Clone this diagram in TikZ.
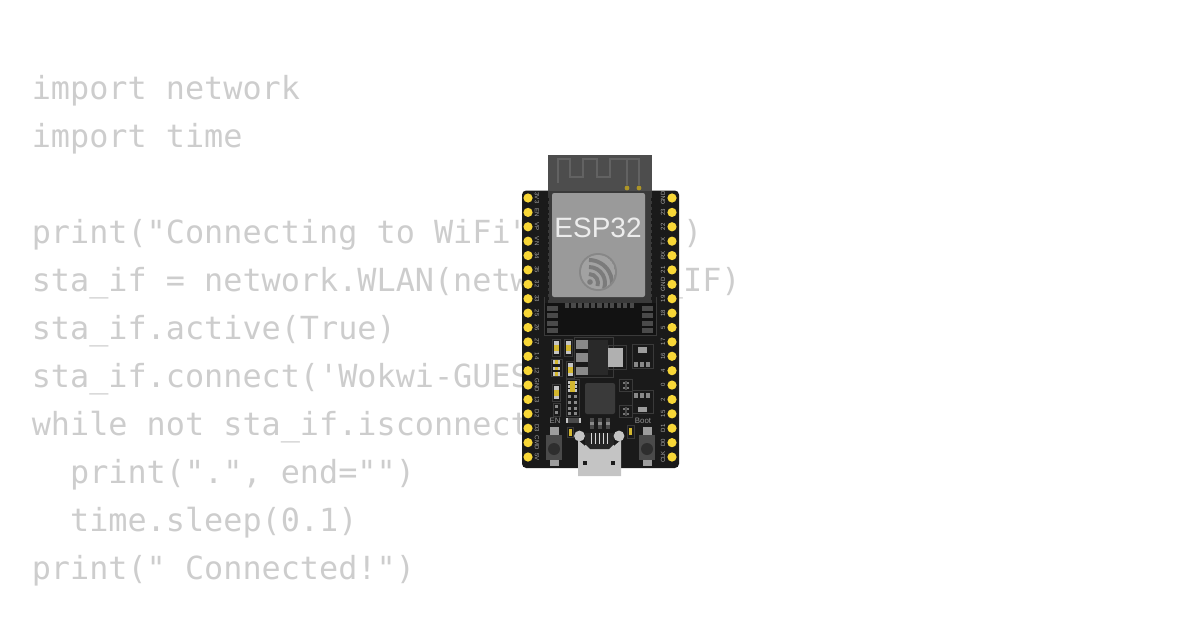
\documentclass[tikz,border=0pt]{standalone}
\usepackage{fontspec}
\setmainfont{Liberation Sans}
\newfontfamily\codefont{DejaVu Sans Mono}
\definecolor{codegrey}{HTML}{CDCDCD}
\definecolor{boardblack}{HTML}{1A1A1A}
\definecolor{pinyellow}{HTML}{F8D737}
\definecolor{shieldgrey}{HTML}{9A9A9A}
\definecolor{antennagrey}{HTML}{4D4D4D}
\definecolor{padgrey}{HTML}{4A4A4A}
\definecolor{linegrey}{HTML}{3A3A3A}
\definecolor{pale}{HTML}{C4C4C4}
\tikzset{
    codeline/.style={anchor=base west,inner sep=0pt,text=codegrey,font=\codefont\fontsize{22.63}{24}\selectfont},
    pinlabel/.style={inner sep=0pt,text=pale!85!black,font=\fontsize{4.3}{5}\selectfont},
    smalllabel/.style={inner sep=0pt,text=pale!75!black,font=\fontsize{5.6}{6}\selectfont},
    outlined/.style={draw=linegrey,line width=0.5pt},
    gold/.style={fill=pinyellow},
    pad/.style={fill=padgrey},
    palepad/.style={fill=pale}
}
\newcommand{\capbox}[2]{% x,y of the top left corner
    \draw[outlined] (#1,#2) rectangle ++(8,17);
    \fill[pale] (#1+1.5,#2+2) rectangle ++(5,13);
    \fill[pinyellow!85!black] (#1+1.5,#2+6) rectangle ++(5,6);
}
\newcommand{\twobytwo}[2]{%
    \draw[outlined] (#1,#2) rectangle ++(13,12.5);
    \fill[padgrey] (#1+5.5,#2+2) rectangle ++(2,8.5);
    \foreach \a in {3.5,7.5}
        \foreach \b in {2.5,8}
            \fill[pale!60!black] (#1+\a,#2+\b) rectangle ++(2,2);
}
\newcommand{\pushbutton}[1]{%
    \fill[pale!80!black] (#1-4.5,427) rectangle (#1+4.5,435);
    \fill[pale!80!black] (#1-4.5,460) rectangle (#1+4.5,466);
    \fill[padgrey] (#1-8,435) rectangle (#1+8,460);
    \fill[linegrey!80!black] (#1,449) circle (6);
}
\begin{document}
\begin{tikzpicture}[x=0.025cm,y=-0.025cm]
    \useasboundingbox (0,0) rectangle (1200,630);
    % code
    \node[codeline] (line1) at (31.5,99.5) {import network};
    \node[codeline] (line2) at (31.5,147.5) {import time};
    \node[codeline] (line4) at (31.5,243.5) {print("Connecting to WiFi", end="")};
    \node[codeline] (line5) at (31.5,291.5) {sta\_if = network.WLAN(network.STA\_IF)};
    \node[codeline] (line6) at (31.5,339.5) {sta\_if.active(True)};
    \node[codeline] (line7) at (31.5,387.5) {sta\_if.connect('Wokwi-GUEST', '')};
    \node[codeline] (line8) at (31.5,435.5) {while not sta\_if.isconnected():};
    \node[codeline] (line9) at (31.5,483.5) {\ \ print(".", end="")};
    \node[codeline] (line10) at (31.5,531.5) {\ \ time.sleep(0.1)};
    \node[codeline] (line11) at (31.5,579.5) {print(" Connected!")};

    % board
    \fill[boardblack,rounded corners=3pt] (522,190.5) rectangle (679,468);
    \foreach \name [count=\i from 0] in {3V3,EN,VP,VN,34,35,32,33,25,26,27,14,12,GND,13,D2,D3,CMD,5V} {
        \fill[gold] (528,198+14.39*\i) circle (4.6);
        \node[pinlabel,rotate=-90] (left\i) at (537,198+14.39*\i) {\name};
    }
    \foreach \name [count=\i from 0] in {GND,23,22,TX,RX,21,GND,19,18,5,17,16,4,0,2,15,D1,D0,CLK} {
        \fill[gold] (672,198+14.39*\i) circle (4.6);
        \node[pinlabel,rotate=90] (right\i) at (663,198+14.39*\i) {\name};
    }

    % module
    \fill[antennagrey] (548,154.5) rectangle (652,193);
    \draw[antennagrey!88!white,line width=1.7pt,line join=miter] (558,183) -- (558,159) -- (570,159) -- (570,177) -- (583,177) -- (583,159) -- (597,159) -- (597,177) -- (610,177) -- (610,159) -- (639,159) -- (639,185);
    \draw[antennagrey!88!white,line width=1.7pt] (627,159) -- (627,185);
    \fill[pinyellow!70!black] (627,188) circle (2.4);
    \fill[pinyellow!70!black] (639,188) circle (2.4);
    \fill[linegrey] (548,191) rectangle (652,303);
    \foreach \i in {0,...,17} {
        \fill[boardblack] (545.5,198+5.8*\i) rectangle ++(3.5,3);
        \fill[boardblack] (651,198+5.8*\i) rectangle ++(3.5,3);
    }
    \fill[shieldgrey,rounded corners=1.5pt] (552,193) rectangle (645,297);
    \node[inner sep=0pt,anchor=base,text=white!93!black,font=\fontsize{19.9}{20}\selectfont] (chipname) at (598,237.5) {ESP32};
    % logo
    \fill[shieldgrey!88!black] (598,272) circle (19);
    \begin{scope}
        \clip (598,272) circle (17);
        \fill[shieldgrey!92!white] (598,272) circle (17);
        \foreach \r in {9,16,23}
            \draw[shieldgrey!80!black,line width=2.8pt] (589,283) ++(-90:\r) arc[start angle=-90,end angle=20,radius=\r];
    \end{scope}
    \fill[shieldgrey!80!black] (590,282) circle (2.8);
    \fill[black!93!white] (544,303) rectangle (656,335);
    \draw[outlined] (544,297) -- (544,335) -- (656,335) -- (656,297);
    \foreach \i in {0,...,10}
        \fill[padgrey] (565+6.45*\i,303) rectangle ++(4.3,5);
    \foreach \y in {306,313,321,328} {
        \fill[pad] (547,\y) rectangle ++(11,5);
        \fill[pad] (642,\y) rectangle ++(11,5);
    }

    % regulator side
    \capbox{552}{339}
    \capbox{564}{339}
    \capbox{566}{361}
    \draw[outlined] (551,359) rectangle (562,376);
    \foreach \y in {360,366.5,372} {
        \fill[pale] (553,\y) rectangle ++(7,3.5);
        \fill[pinyellow!85!black] (555,\y) rectangle ++(3,3.5);
    }
    \draw[outlined] (574,337) -- (613,337) -- (613,377) -- (574,377) -- cycle;
    \fill[linegrey!70!black] (588,340) rectangle (608,375);
    \fill[pale!70!black] (576,340) rectangle (588,349);
    \fill[pale!70!black] (576,353) rectangle (588,362);
    \fill[pale!70!black] (576,367) rectangle (588,375);
    \draw[outlined] (608,345) rectangle (626,369);
    \fill[pale!90!black] (608,348) rectangle (623,367);
    \draw[outlined] (632,344) rectangle (653,368);
    \fill[pale!80!black] (638,347) rectangle (647,352.5);
    \foreach \x in {635,641,647}
        \fill[pale!70!black] (\x-1,362) rectangle ++(4,4.5);
    \draw[outlined] (632,390) rectangle (653,413);
    \fill[pale!80!black] (638,407) rectangle (647,412);
    \foreach \x in {635,641,647}
        \fill[pale!70!black] (\x-1,393) rectangle ++(4,4.5);
    \twobytwo{619}{379}
    \twobytwo{619}{405}

    % mcu
    \fill[linegrey,rounded corners=1.5pt] (585,383) rectangle (615,414);
    % left stack
    \draw[outlined] (566,379) rectangle (579,416);
    \foreach \y in {381,385,389}
        \fill[pale] (568,\y) rectangle ++(9,2.5);
    \fill[pinyellow!85!black] (570,381) rectangle (575,392);
    \foreach \y in {395,401,407,412}
        \foreach \x in {568,574}
            \fill[pale!70!black] (\x,\y) rectangle ++(3,3);
    \capbox{552}{384}
    \draw[outlined] (553,403) rectangle (560,416);
    \fill[pale!70!black] (555,405) rectangle ++(3,3);
    \fill[pale!70!black] (555,411) rectangle ++(3,3);

    % usb side
    \node[smalllabel] (enlabel) at (555,421) {EN};
    \node[smalllabel] (bootlabel) at (643,421) {Boot};
    \fill[padgrey] (567,418) rectangle (581,423);
    \fill[pale] (566,418) rectangle ++(2,5);
    \fill[pale] (579,418) rectangle ++(2,5);
    \foreach \x in {590,598,606} {
        \fill[padgrey] (\x,418) rectangle ++(3.5,11);
        \fill[pale!70!black] (\x,422) rectangle ++(3.5,3);
    }
    \draw[outlined] (567,427) rectangle (573.5,437);
    \fill[pinyellow!85!black] (569,428.5) rectangle (572,435.5);
    \draw[outlined] (627,425) rectangle (634,438);
    \fill[pinyellow!85!black] (629,428) rectangle (632,435);
    \pushbutton{554}
    \pushbutton{647}
    \fill[pale] (578,440) -- (585,446) -- (614,446) -- (621,440) -- (621,476) -- (578,476) -- cycle;
    \fill[palepad] (585,445) rectangle (614,452);
    \fill[black!85!white] (585,433) rectangle (614,444.5);
    \fill[black!85!white] (585,444) -- (590,449) -- (609,449) -- (614,444) -- cycle;
    \foreach \x in {591,595,599,603,607}
        \draw[white!85!black,line width=0.7pt] (\x,433) -- (\x,444);
    \fill[pale] (579.5,436) circle (5.4);
    \fill[pale] (619,436) circle (5.4);
    \fill[boardblack] (583,461) rectangle ++(4,4);
    \fill[boardblack] (611,461) rectangle ++(4,4);
\end{tikzpicture}
\end{document}
